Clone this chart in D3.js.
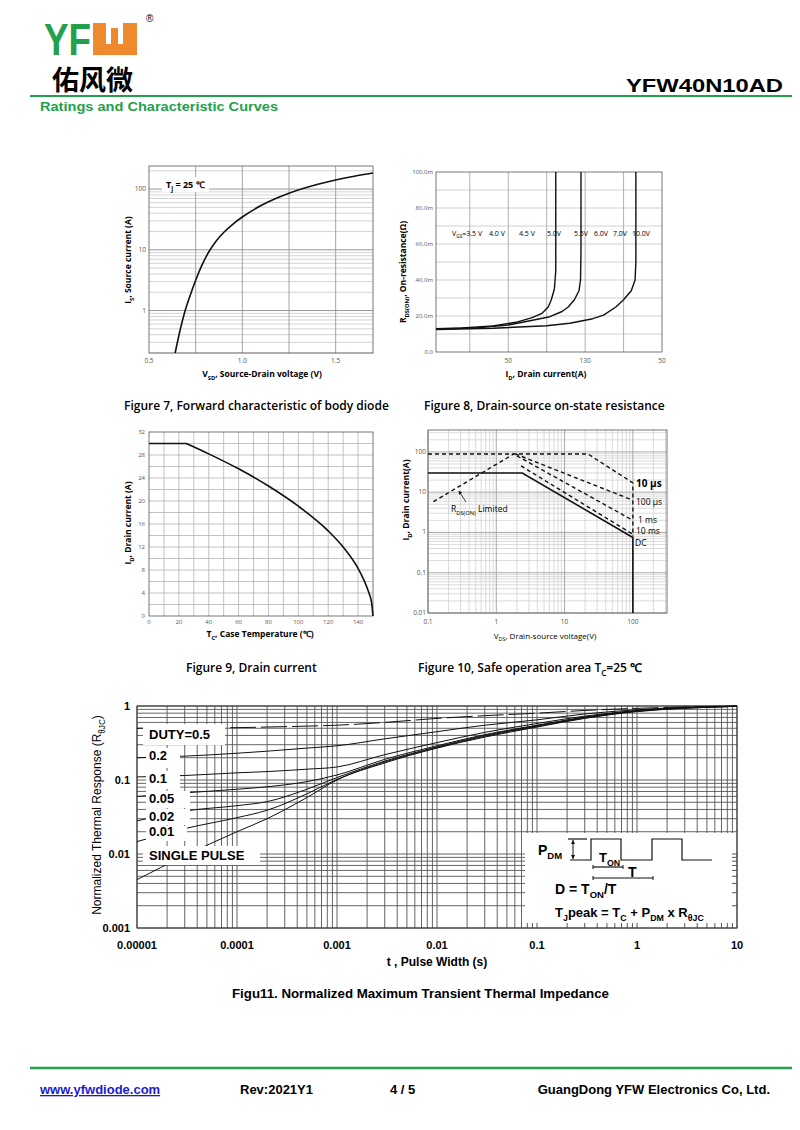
<!DOCTYPE html>
<html>
<head>
<meta charset="utf-8">
<script src="https://cdn.jsdelivr.net/npm/d3@7"></script>
<style>
	body { margin: 0; background: #fff; }
	svg { display: block; font-family: "Liberation Sans", Arial, sans-serif; }
</style>
</head>
<body>
<svg id="page" width="800" height="1130"></svg>
<script>

// Figure 7 - body diode forward characteristic
var diode_vsd = [0.64, 0.67, 0.69, 0.72, 0.75, 0.78, 0.82, 0.86, 0.9, 0.95, 1.0, 1.1, 1.25, 1.4, 1.5, 1.6, 1.7];
var diode_is = [0.2, 0.525, 0.91, 1.76, 3.16, 5.3, 9.2, 14, 19.3, 26.6, 34.7, 53.7, 85.6, 119, 141, 163, 184];
var diode_vgrid = [0.75, 1.0, 1.25, 1.5];
var diode_vticks = [0.5, 1.0, 1.5];
var diode_iticks = [1, 10, 100];

// Figure 8 - on-state resistance (mOhm), three curve groups
var rds_id_low = [3, 20, 40, 55, 65, 72, 76, 78, 80, 80.9, 80.9];
var rds_low = [13, 13.3, 14.5, 16.5, 19, 21.5, 25, 29, 35, 45, 100];
var rds_id_mid = [3, 30, 50, 65, 77, 85, 89, 93, 96, 97, 97.3, 97.3];
var rds_mid = [12.7, 13.5, 15, 17.5, 19.6, 22.5, 25, 29, 34, 40, 55, 100];
var rds_id_high = [3, 40, 75, 90, 105, 112, 120, 125, 130, 132.5, 133, 133];
var rds_high = [12.5, 13.2, 14.6, 16, 18.5, 20.5, 25, 29, 34, 40, 50, 100];
var vgs_labels = ["4.0 V", "4.5 V", "5.0V", "5.5V", "6.0V", "7.0V", "10.0V"];
var rds_yticks = [0, 20, 40, 60, 80, 100];
var rds_xticks = [50, 100, 150];
var rds_xtick_text = ["50", "130", "50"];

// Figure 9 - drain current vs case temperature
var case_temp = [0, 25, 40, 60, 80, 100, 120, 130, 140, 144, 147, 149, 150];
var case_id = [30, 30, 28.2, 25.6, 22.6, 19.1, 14.8, 12.0, 8.3, 6.2, 4.2, 2.4, 0];
var temp_ticks = [0, 20, 40, 60, 80, 100, 120, 140];
var current_ticks = [0, 4, 8, 12, 16, 20, 24, 28, 32];

// Figure 10 - safe operating area
var soa_dc_v = [0.1, 2.4, 100, 100];
var soa_dc_i = [30, 30, 0.75, 0.01];
var soa_10us_v = [0.1, 22, 100, 100];
var soa_10us_i = [89, 89, 17, 0.8];
var soa_100us_v = [1.9, 100];
var soa_100us_i = [89, 6.3];
var soa_1ms_v = [2.0, 100];
var soa_1ms_i = [80, 2.0];
var soa_10ms_v = [2.3, 100];
var soa_10ms_i = [45, 0.9];
var soa_rds_v = [0.12, 1.8];
var soa_rds_i = [5.8, 89];
var soa_vticks = [0.1, 1, 10, 100];
var soa_iticks = [0.01, 0.1, 1, 10, 100];
var soa_labels = ["10 µs", "100 µs", "1 ms", "10 ms", "DC"];

// Figure 11 - transient thermal impedance
var pulse_t = [1e-5, 3e-5, 1e-4, 2e-4, 5e-4, 1e-3, 3e-3, 1e-2, 3e-2, 0.1, 0.3, 1, 3, 10];
var z_single = [0.0045, 0.0095, 0.02, 0.03, 0.058, 0.1, 0.17, 0.27, 0.38, 0.52, 0.68, 0.84, 0.93, 0.99];
var z_d001 = [0.0147, 0.022, 0.031, 0.039, 0.065, 0.102, 0.175, 0.275, 0.39, 0.53, 0.69, 0.85, 0.94, 0.99];
var z_d002 = [0.028, 0.038, 0.045, 0.051, 0.075, 0.108, 0.18, 0.28, 0.4, 0.54, 0.7, 0.86, 0.94, 0.99];
var z_d005 = [0.06, 0.067, 0.075, 0.081, 0.095, 0.117, 0.19, 0.29, 0.41, 0.55, 0.71, 0.86, 0.95, 0.99];
var z_d01 = [0.11, 0.115, 0.125, 0.13, 0.14, 0.15, 0.22, 0.32, 0.44, 0.58, 0.73, 0.87, 0.95, 0.99];
var z_d02 = [0.2, 0.21, 0.23, 0.245, 0.27, 0.29, 0.36, 0.45, 0.55, 0.65, 0.78, 0.89, 0.96, 1.0];
var z_d05 = [0.5, 0.505, 0.51, 0.52, 0.535, 0.55, 0.6, 0.68, 0.74, 0.8, 0.87, 0.93, 0.97, 1.0];
var duty_labels = ["DUTY=0.5", "0.2", "0.1", "0.05", "0.02", "0.01", "SINGLE PULSE"];
var zth_xticks = [1e-5, 1e-4, 1e-3, 1e-2, 0.1, 1, 10];
var zth_xtick_text = ["0.00001", "0.0001", "0.001", "0.01", "0.1", "1", "10"];
var zth_yticks = [0.001, 0.01, 0.1, 1];
var zth_ytick_text = ["0.001", "0.01", "0.1", "1"];

var svg = d3.select("#page");
var GREEN = "#22a04b";

function zip(xs, ys) {
	return xs.map(function(v, i) { return [v, ys[i]]; });
}

function is_decade(d) {
	var l = Math.log10(d);
	return Math.abs(l - Math.round(l)) < 1e-6;
}

// text with subscripts: parts are strings or {sub: "..."}
function add_rich(g, x, y, parts, size, weight, anchor) {
	var t = g.append("text")
			 .attr("x", x)
			 .attr("y", y)
			 .attr("font-size", size)
			 .attr("text-anchor", anchor || "start");
	if (weight) {
		t.attr("font-weight", weight);
	}
	var shift = 0;
	parts.forEach(function(p) {
		var sub = (typeof p != "string");
		var target = sub ? size * 0.3 : 0;
		t.append("tspan")
		 .attr("dy", target - shift)
		 .attr("font-size", sub ? size * 0.68 : size)
		 .text(sub ? p.sub : p);
		shift = target;
	});
	return t;
}

function add_rotated(g, x, y, parts, size, weight) {
	var r = g.append("g").attr("transform", "translate(" + x + "," + y + ") rotate(-90)");
	return add_rich(r, 0, 0, parts, size, weight, "middle");
}

function hlines(g, values, y, x1, x2, color, width) {
	g.append("g").selectAll("line")
	 .data(values).enter().append("line")
		.attr("x1", x1).attr("x2", x2)
		.attr("y1", function(d) { return y(d); })
		.attr("y2", function(d) { return y(d); })
		.attr("stroke", color)
		.attr("stroke-width", width);
}

function vlines(g, values, x, y1, y2, color, width) {
	g.append("g").selectAll("line")
	 .data(values).enter().append("line")
		.attr("y1", y1).attr("y2", y2)
		.attr("x1", function(d) { return x(d); })
		.attr("x2", function(d) { return x(d); })
		.attr("stroke", color)
		.attr("stroke-width", width);
}

function draw_header() {
	// logo
	svg.append("text")
	   .attr("transform", "translate(44,55) scale(1,1.2)")
	   .attr("font-size", 37).attr("font-weight", "bold")
	   .attr("fill", GREEN)
	   .attr("textLength", 47).attr("lengthAdjust", "spacingAndGlyphs")
	   .text("YF");
	svg.append("path")
	   .attr("d", "M93,23 H106 V44 H111 V28 H118 V44 H123 V23 H137 V55 H93 Z")
	   .attr("fill", "#ee8a2d");
	svg.append("text")
	   .attr("x", 146).attr("y", 22)
	   .attr("font-size", 10)
	   .text("®");
	svg.append("text")
	   .attr("x", 52).attr("y", 90)
	   .attr("font-family", "'Noto Sans CJK SC', sans-serif")
	   .attr("font-size", 27).attr("font-weight", "bold")
	   .text("佑风微");

	svg.append("text")
	   .attr("x", 783).attr("y", 92)
	   .attr("text-anchor", "end")
	   .attr("font-size", 18).attr("font-weight", "bold")
	   .attr("textLength", 157).attr("lengthAdjust", "spacingAndGlyphs")
	   .text("YFW40N10AD");

	svg.append("line")
	   .attr("x1", 30).attr("x2", 792).attr("y1", 96).attr("y2", 96)
	   .attr("stroke", GREEN).attr("stroke-width", 2);
	svg.append("text")
	   .attr("x", 40).attr("y", 111)
	   .attr("font-size", 13).attr("font-weight", "bold")
	   .attr("fill", GREEN)
	   .attr("textLength", 238).attr("lengthAdjust", "spacingAndGlyphs")
	   .text("Ratings and Characteristic Curves");
}

function draw_fig7() {
	var g = svg.append("g").attr("font-family", "'Open Sans', sans-serif");
	var x = d3.scaleLinear().domain([0.5, 1.7]).range([149, 373]);
	var y = d3.scaleLog().domain([0.2, 240]).range([353, 166]);

	var minor = y.ticks().filter(function(d) { return !is_decade(d); });
	hlines(g, minor, y, 149, 373, "#c8c8c8", 0.8);
	hlines(g, diode_iticks, y, 149, 373, "#8a8a8a", 0.9);
	vlines(g, diode_vgrid, x, 166, 353, "#9a9a9a", 0.9);
	g.append("rect")
	 .attr("x", 149).attr("y", 166).attr("width", 224).attr("height", 187)
	 .attr("fill", "none").attr("stroke", "#555").attr("stroke-width", 0.8);

	var line = d3.line()
				 .x(function(d) { return x(d[0]); })
				 .y(function(d) { return y(d[1]); })
				 .curve(d3.curveMonotoneX);
	g.append("path")
	 .attr("d", line(zip(diode_vsd, diode_is)))
	 .attr("fill", "none").attr("stroke", "#111").attr("stroke-width", 1.6);

	g.append("rect")
	 .attr("x", 162).attr("y", 177).attr("width", 47).attr("height", 15)
	 .attr("fill", "#fff");
	add_rich(g, 166, 188, ["T", {sub: "j"}, " = 25 ℃"], 9, "bold");

	g.append("g").selectAll("text")
	 .data(diode_iticks).enter().append("text")
		.attr("x", 146).attr("y", function(d) { return y(d) + 2; })
		.attr("text-anchor", "end").attr("font-size", 6.5).attr("fill", "#555")
		.text(function(d) { return d; });
	g.append("g").selectAll("text")
	 .data(diode_vticks).enter().append("text")
		.attr("x", function(d) { return x(d); }).attr("y", 363)
		.attr("text-anchor", "middle").attr("font-size", 6.5).attr("fill", "#555")
		.text(function(d) { return d.toFixed(1); });

	add_rich(g, 262, 377, ["V", {sub: "SD"}, ", Source-Drain voltage (V)"], 8.5, "bold", "middle");
	add_rotated(g, 131, 260, ["I", {sub: "S"}, ", Source current (A)"], 8.5, "bold");
}

function draw_fig8() {
	var g = svg.append("g").attr("font-family", "'Open Sans', sans-serif");
	var x = d3.scaleLinear().domain([3, 150]).range([436, 662]);
	var y = d3.scaleLinear().domain([0, 100]).range([352, 172]);

	hlines(g, d3.range(10, 100, 10), y, 436, 662, "#c4c4c4", 0.8);
	vlines(g, [25, 50, 75, 100, 125], x, 172, 352, "#a8a8a8", 0.9);
	g.append("rect")
	 .attr("x", 436).attr("y", 172).attr("width", 226).attr("height", 180)
	 .attr("fill", "none").attr("stroke", "#555").attr("stroke-width", 0.8);

	var line = d3.line()
				 .x(function(d) { return x(d[0]); })
				 .y(function(d) { return y(d[1]); })
				 .curve(d3.curveLinear);
	[[rds_id_low, rds_low], [rds_id_mid, rds_mid], [rds_id_high, rds_high]].forEach(function(s) {
		g.append("path")
		 .attr("d", line(zip(s[0], s[1])))
		 .attr("fill", "none").attr("stroke", "#111").attr("stroke-width", 1.4)
		 .attr("stroke-linejoin", "round");
	});

	add_rich(g, 452, 236, ["V", {sub: "GS"}, "=3.5 V"], 7);
	var label_x = [489, 519, 547, 574, 594, 613, 632];
	g.append("g").selectAll("text")
	 .data(vgs_labels).enter().append("text")
		.attr("x", function(d, i) { return label_x[i]; }).attr("y", 236)
		.attr("font-size", 7)
		.text(function(d) { return d; });

	g.append("g").selectAll("text")
	 .data(rds_yticks).enter().append("text")
		.attr("x", 433).attr("y", function(d) { return y(d) + 2; })
		.attr("text-anchor", "end").attr("font-size", 6).attr("fill", "#555")
		.text(function(d) { return d == 0 ? "0.0" : d.toFixed(1) + "m"; });
	g.append("g").selectAll("text")
	 .data(rds_xticks).enter().append("text")
		.attr("x", function(d) { return x(d); }).attr("y", 363)
		.attr("text-anchor", "middle").attr("font-size", 6.5).attr("fill", "#555")
		.text(function(d, i) { return rds_xtick_text[i]; });

	add_rich(g, 546, 377, ["I", {sub: "D"}, ", Drain current(A)"], 8.5, "bold", "middle");
	add_rotated(g, 406, 272, ["R", {sub: "DS(ON)"}, ", On-resistance(Ω)"], 8.5, "bold");
}

function draw_fig9() {
	var g = svg.append("g").attr("font-family", "'Open Sans', sans-serif");
	var x = d3.scaleLinear().domain([0, 150]).range([149, 373]);
	var y = d3.scaleLinear().domain([0, 32]).range([616, 432]);

	hlines(g, d3.range(2, 32, 2), y, 149, 373, "#b4b4b4", 0.8);
	vlines(g, d3.range(10, 150, 10), x, 432, 616, "#b4b4b4", 0.8);
	g.append("rect")
	 .attr("x", 149).attr("y", 432).attr("width", 224).attr("height", 184)
	 .attr("fill", "none").attr("stroke", "#555").attr("stroke-width", 0.8);

	// flat current limit, then the derating curve
	var pts = zip(case_temp, case_id);
	var flat = pts.filter(function(d) { return d[0] <= 25; });
	var bend = pts.filter(function(d) { return d[0] >= 25; });
	var line = d3.line()
				 .x(function(d) { return x(d[0]); })
				 .y(function(d) { return y(d[1]); });
	g.append("path")
	 .attr("d", line(flat) + line.curve(d3.curveMonotoneX)(bend).replace(/^M/, "L"))
	 .attr("fill", "none").attr("stroke", "#111").attr("stroke-width", 1.6)
	 .attr("stroke-linejoin", "round");

	g.append("g").selectAll("text")
	 .data(current_ticks).enter().append("text")
		.attr("x", 145).attr("y", function(d) { return y(d) + 2; })
		.attr("text-anchor", "end").attr("font-size", 6).attr("fill", "#555")
		.text(function(d) { return d; });
	g.append("g").selectAll("text")
	 .data(temp_ticks).enter().append("text")
		.attr("x", function(d) { return x(d); }).attr("y", 624)
		.attr("text-anchor", "middle").attr("font-size", 6).attr("fill", "#555")
		.text(function(d) { return d; });

	add_rich(g, 260, 637, ["T", {sub: "C"}, ", Case Temperature (℃)"], 8.5, "bold", "middle");
	add_rotated(g, 131, 523, ["I", {sub: "D"}, ", Drain current (A)"], 8.5, "bold");
}

function draw_fig10() {
	var g = svg.append("g").attr("font-family", "'Open Sans', sans-serif");
	var x = d3.scaleLog().domain([0.1, 316]).range([428, 667]);
	var y = d3.scaleLog().domain([0.01, 350]).range([613, 430]);

	var xminor = x.ticks().filter(function(d) { return !is_decade(d); });
	var yminor = y.ticks().filter(function(d) { return !is_decade(d); });
	hlines(g, yminor, y, 428, 667, "#d0d0d0", 0.8);
	vlines(g, xminor, x, 430, 613, "#d0d0d0", 0.8);
	hlines(g, soa_iticks, y, 428, 667, "#a0a0a0", 0.9);
	vlines(g, soa_vticks, x, 430, 613, "#a0a0a0", 0.9);
	g.append("rect")
	 .attr("x", 428).attr("y", 430).attr("width", 239).attr("height", 183)
	 .attr("fill", "none").attr("stroke", "#555").attr("stroke-width", 0.8);

	var line = d3.line()
				 .x(function(d) { return x(d[0]); })
				 .y(function(d) { return y(d[1]); });
	var dashed = [[soa_10us_v, soa_10us_i], [soa_100us_v, soa_100us_i], [soa_1ms_v, soa_1ms_i],
				  [soa_10ms_v, soa_10ms_i], [soa_rds_v, soa_rds_i]];
	dashed.forEach(function(s) {
		g.append("path")
		 .attr("d", line(zip(s[0], s[1])))
		 .attr("fill", "none").attr("stroke", "#111").attr("stroke-width", 1.4)
		 .attr("stroke-dasharray", "4,3");
	});
	g.append("path")
	 .attr("d", line(zip(soa_dc_v, soa_dc_i)))
	 .attr("fill", "none").attr("stroke", "#111").attr("stroke-width", 1.6);

	// R_DS(on) limited note with arrow
	g.append("defs").append("marker")
	 .attr("id", "arr").attr("viewBox", "0 0 6 6").attr("refX", 5).attr("refY", 3)
	 .attr("markerWidth", 5).attr("markerHeight", 5).attr("orient", "auto")
	 .append("path").attr("d", "M0,0 L6,3 L0,6 Z").attr("fill", "#111");
	g.append("line")
	 .attr("x1", 466).attr("y1", 502).attr("x2", 459).attr("y2", 491)
	 .attr("stroke", "#111").attr("stroke-width", 0.8)
	 .attr("marker-end", "url(#arr)");
	add_rich(g, 451, 512, ["R", {sub: "DS(ON)"}, " Limited"], 8.5);

	var label_y = [487, 505, 523, 534, 546];
	var label_x = [636, 636, 638, 636, 635];
	g.append("g").selectAll("text")
	 .data(soa_labels).enter().append("text")
		.attr("x", function(d, i) { return label_x[i]; })
		.attr("y", function(d, i) { return label_y[i]; })
		.attr("font-size", function(d, i) { return i == 0 ? 10 : 8.5; })
		.attr("font-weight", function(d, i) { return i == 0 ? "bold" : "normal"; })
		.text(function(d) { return d; });

	g.append("g").selectAll("text")
	 .data(soa_iticks).enter().append("text")
		.attr("x", 426).attr("y", function(d) { return y(d) + 2; })
		.attr("text-anchor", "end").attr("font-size", 6.5).attr("fill", "#555")
		.text(function(d) { return d; });
	g.append("g").selectAll("text")
	 .data(soa_vticks).enter().append("text")
		.attr("x", function(d) { return x(d); }).attr("y", 624)
		.attr("text-anchor", "middle").attr("font-size", 6.5).attr("fill", "#555")
		.text(function(d) { return d; });

	add_rich(g, 545, 639, ["V", {sub: "DS"}, ", Drain-source voltage(V)"], 8, "normal", "middle");
	add_rotated(g, 409, 500, ["I", {sub: "D"}, ", Drain current(A)"], 8.5, "bold");
}

function draw_fig11() {
	var g = svg.append("g");
	var x = d3.scaleLog().domain([1e-5, 10]).range([137, 737]);
	var y = d3.scaleLog().domain([0.001, 1]).range([928, 706]);

	hlines(g, y.ticks(), y, 137, 737, "#555", 0.9);
	vlines(g, x.ticks(), x, 706, 928, "#555", 0.9);
	g.append("rect")
	 .attr("x", 137).attr("y", 706).attr("width", 600).attr("height", 222)
	 .attr("fill", "none").attr("stroke", "#333").attr("stroke-width", 1);

	var line = d3.line()
				 .x(function(d) { return x(d[0]); })
				 .y(function(d) { return y(d[1]); })
				 .curve(d3.curveMonotoneX);
	var series = [z_single, z_d001, z_d002, z_d005, z_d01, z_d02, z_d05];
	series.forEach(function(s, i) {
		g.append("path")
		 .attr("d", line(zip(pulse_t, s)))
		 .attr("fill", "none").attr("stroke", "#111").attr("stroke-width", 1)
		 .attr("stroke-dasharray", i == 6 ? "26,5" : null);
	});

	// white boxes behind the duty labels
	var box = [[143, 724, 82, 21], [146, 748, 34, 20], [146, 771, 34, 18], [146, 791, 44, 17],
			   [146, 809, 44, 16], [146, 826, 41, 15], [143, 846, 117, 19]];
	var label_y = [739, 760, 783, 803, 821, 836, 860];
	box.forEach(function(b) {
		g.append("rect")
		 .attr("x", b[0]).attr("y", b[1]).attr("width", b[2]).attr("height", b[3])
		 .attr("fill", "#fff");
	});
	g.append("g").selectAll("text")
	 .data(duty_labels).enter().append("text")
		.attr("x", 149)
		.attr("y", function(d, i) { return label_y[i]; })
		.attr("font-size", 13).attr("font-weight", "bold")
		.text(function(d) { return d; });

	// inset with pulse definition
	g.append("rect")
	 .attr("x", 525).attr("y", 833).attr("width", 211).attr("height", 94)
	 .attr("fill", "#fff");
	var inx = x.ticks().filter(function(d) { return x(d) > 526 && x(d) < 736; });
	g.append("g").selectAll("line")
	 .data(inx).enter().append("line")
		.attr("x1", function(d) { return x(d); }).attr("x2", function(d) { return x(d); })
		.attr("y1", 928).attr("y2", 923)
		.attr("stroke", "#555");
	var iny = y.ticks().filter(function(d) { return y(d) > 834 && y(d) < 927; });
	g.append("g").selectAll("line")
	 .data(iny).enter().append("line")
		.attr("y1", function(d) { return y(d); }).attr("y2", function(d) { return y(d); })
		.attr("x1", 737).attr("x2", 732)
		.attr("stroke", "#555");

	var wave = [[570, 860], [591, 860], [591, 839], [621, 839], [621, 860], [652, 860],
				[652, 839], [682, 839], [682, 860], [712, 860]];
	g.append("path")
	 .attr("d", d3.line()(wave))
	 .attr("fill", "none").attr("stroke", "#111").attr("stroke-width", 1.2);
	g.append("line").attr("x1", 568).attr("x2", 587).attr("y1", 839).attr("y2", 839)
	 .attr("stroke", "#111").attr("stroke-width", 1.2);
	g.append("defs").append("marker")
	 .attr("id", "arr2").attr("viewBox", "0 0 6 6").attr("refX", 6).attr("refY", 3)
	 .attr("markerWidth", 4).attr("markerHeight", 4).attr("orient", "auto-start-reverse")
	 .append("path").attr("d", "M0,0 L6,3 L0,6 Z").attr("fill", "#111");
	g.append("line").attr("x1", 573).attr("x2", 573).attr("y1", 840).attr("y2", 859)
	 .attr("stroke", "#111").attr("stroke-width", 1)
	 .attr("marker-start", "url(#arr2)").attr("marker-end", "url(#arr2)");
	[[593, 623, 867], [593, 653, 878]].forEach(function(m) {
		g.append("line").attr("x1", m[0]).attr("x2", m[1]).attr("y1", m[2]).attr("y2", m[2])
		 .attr("stroke", "#111").attr("stroke-width", 1.2);
		g.append("line").attr("x1", m[0]).attr("x2", m[0]).attr("y1", m[2] - 2).attr("y2", m[2] + 2)
		 .attr("stroke", "#111");
		g.append("line").attr("x1", m[1]).attr("x2", m[1]).attr("y1", m[2] - 2).attr("y2", m[2] + 2)
		 .attr("stroke", "#111");
	});
	add_rich(g, 538, 855, ["P", {sub: "DM"}], 14, "bold");
	add_rich(g, 599, 862, ["T", {sub: "ON"}], 13, "bold");
	add_rich(g, 628, 877, ["T"], 14, "bold");
	add_rich(g, 555, 894, ["D = T", {sub: "ON"}, "/T"], 14, "bold");
	add_rich(g, 555, 917, ["T", {sub: "J"}, "peak = T", {sub: "C"}, " + P", {sub: "DM"}, " x R", {sub: "θJC"}], 13, "bold");

	// axes text
	g.append("g").selectAll("text")
	 .data(zth_xticks).enter().append("text")
		.attr("x", function(d) { return x(d); }).attr("y", 949)
		.attr("text-anchor", "middle").attr("font-size", 11).attr("font-weight", "bold")
		.text(function(d, i) { return zth_xtick_text[i]; });
	g.append("g").selectAll("text")
	 .data(zth_yticks).enter().append("text")
		.attr("x", 130).attr("y", function(d) { return y(d) + 4; })
		.attr("text-anchor", "end").attr("font-size", 11).attr("font-weight", "bold")
		.text(function(d, i) { return zth_ytick_text[i]; });
	add_rich(g, 437, 966, ["t , Pulse Width (s)"], 12, "bold", "middle");
	add_rotated(g, 101, 815, ["Normalized Thermal Response (R", {sub: "θJC"}, ")"], 12);
}

function draw_captions() {
	var g = svg.append("g")
			   .attr("font-family", "'Open Sans', sans-serif")
			   .attr("font-weight", 600)
			   .attr("font-size", 12);
	g.append("text").attr("x", 124).attr("y", 410).text("Figure 7, Forward characteristic of body diode");
	g.append("text").attr("x", 424).attr("y", 410).text("Figure 8, Drain-source on-state resistance");
	g.append("text").attr("x", 186).attr("y", 672).text("Figure 9, Drain current");
	add_rich(g, 418, 672, ["Figure 10, Safe operation area T", {sub: "C"}, "=25 ℃"], 12, 600);
	svg.append("text")
	   .attr("x", 232).attr("y", 998)
	   .attr("font-size", 13).attr("font-weight", "bold")
	   .attr("textLength", 377).attr("lengthAdjust", "spacingAndGlyphs")
	   .text("Figu11. Normalized Maximum Transient Thermal Impedance");
}

function draw_footer() {
	svg.append("line")
	   .attr("x1", 30).attr("x2", 792).attr("y1", 1068).attr("y2", 1068)
	   .attr("stroke", GREEN).attr("stroke-width", 2.5);
	var f = svg.append("g").attr("font-size", 13).attr("font-weight", "bold");
	f.append("text").attr("x", 40).attr("y", 1094)
	 .attr("fill", "#1a1ad0").attr("text-decoration", "underline")
	 .text("www.yfwdiode.com");
	f.append("text").attr("x", 240).attr("y", 1094).text("Rev:2021Y1");
	f.append("text").attr("x", 390).attr("y", 1094).text("4 / 5");
	f.append("text").attr("x", 770).attr("y", 1094).attr("text-anchor", "end")
	 .text("GuangDong YFW Electronics Co, Ltd.");
}

draw_header();
draw_fig7();
draw_fig8();
draw_fig9();
draw_fig10();
draw_fig11();
draw_captions();
draw_footer();

</script>
</body>
</html>
